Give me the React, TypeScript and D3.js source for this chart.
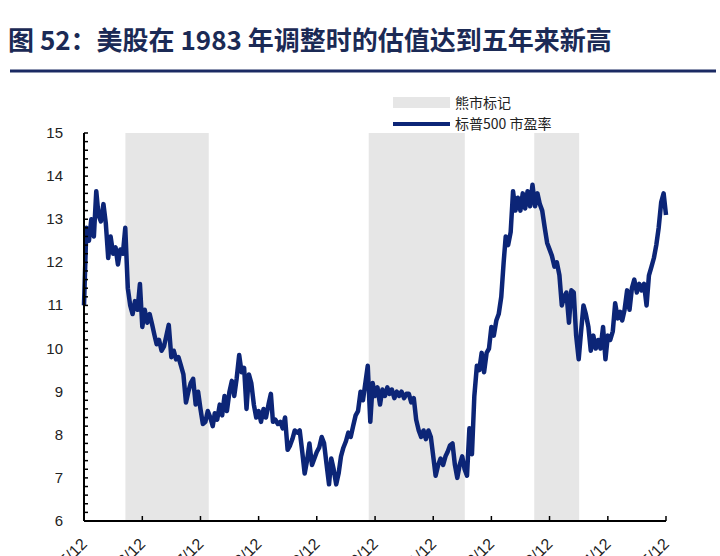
import React from "react";
import * as d3 from "d3";

const TITLE = "图 52：美股在 1983 年调整时的估值达到五年来新高";
const LEGEND_BEAR = "熊市标记";
const LEGEND_PE = "标普500 市盈率";

// half-monthly S&P 500 P/E readings, 1975/12 .. 1985/12
const pe: number[] = [
  11.0, 12.8, 12.5, 13.0, 12.6, 13.65, 13.1, 12.95, 13.35, 12.9,
  12.1, 12.6, 12.2, 12.35, 11.95, 12.3, 12.2, 12.8, 11.4, 11.0,
  10.8, 11.1, 10.9, 11.5, 10.5, 10.9, 10.6, 10.8, 10.55, 10.3,
  10.1, 10.2, 9.95, 10.05, 10.3, 10.55, 9.8, 9.95, 9.75, 9.8,
  9.6, 9.4, 8.75, 9.0, 9.2, 9.3, 8.7, 9.0, 8.6, 8.25,
  8.3, 8.55, 8.4, 8.2, 8.5, 8.35, 8.7, 8.45, 8.9, 8.55,
  9.0, 9.25, 8.9, 9.3, 9.85, 9.45, 9.55, 8.6, 9.4, 9.2,
  8.7, 8.4, 8.55, 8.3, 8.6, 8.4, 8.7, 8.95, 8.3, 8.35,
  8.25, 8.3, 8.15, 8.4, 7.65, 7.75, 7.9, 8.1, 8.05, 8.1,
  7.6, 7.1, 7.4, 7.8, 7.3, 7.45, 7.6, 7.7, 7.95, 7.8,
  7.3, 6.85, 7.45, 7.2, 6.85, 7.1, 7.5, 7.7, 7.85, 8.05,
  7.95, 8.2, 8.45, 8.55, 9.0, 8.8, 9.2, 9.6, 8.3, 9.2,
  8.9, 9.1, 8.7, 9.05, 8.9, 9.1, 8.95, 9.05, 8.85, 9.0,
  8.9, 9.0, 8.85, 8.95, 8.95, 8.75, 8.85, 8.35, 8.1, 7.95,
  8.1, 7.9, 8.1, 7.95, 7.5, 7.05, 7.3, 7.45, 7.3, 7.5,
  7.6, 7.75, 7.8, 7.3, 7.0, 7.3, 7.5, 7.2, 7.05, 8.15,
  7.55, 8.9, 9.6, 9.5, 9.9, 9.45, 9.9, 10.0, 10.5, 10.3,
  10.65, 10.8, 11.2, 12.0, 12.6, 12.4, 12.7, 13.65, 13.2, 13.5,
  13.2, 13.6, 13.25, 13.65, 13.3, 13.8, 13.3, 13.6, 13.35, 13.2,
  12.8, 12.45, 12.3, 12.15, 11.9, 12.0, 11.7, 11.0, 11.2, 11.3,
  10.6, 11.35, 11.3, 10.3, 9.75, 10.4, 11.0, 10.8, 10.5, 9.95,
  10.3, 10.0, 10.2, 10.0, 10.5, 9.75, 10.3, 10.2, 10.4, 11.05,
  10.7, 10.85, 10.65, 10.9, 11.35, 10.9, 11.4, 11.6, 11.3, 11.5,
  11.35, 11.5, 11.0, 11.7, 11.9, 12.1, 12.4, 12.8, 13.4, 13.6,
  13.1,
];

const bearStarts = ["1976-08-28", "1980-11-02", "1983-09-07"];
const bearEnds = ["1978-02-02", "1982-06-28", "1984-06-15"];

const tickLabels = [
  "1975/12", "1976/12", "1977/12", "1978/12", "1979/12", "1980/12",
  "1981/12", "1982/12", "1983/12", "1984/12", "1985/12",
];
const yTicks = [6, 7, 8, 9, 10, 11, 12, 13, 14, 15];

const NAVY = "#0c2577";
const SHADE = "#e6e6e6";

const parseLabel = (s: string) => {
  const [y, m] = s.split("/").map(Number);
  return new Date(y, m - 1, 12);
};
const dateOf = (i: number) =>
  new Date(1975, 11 + Math.floor(i / 2), i % 2 === 0 ? 12 : 27);

export default function App() {
  const left = 84, right = 666, top = 133, bottom = 521;
  const x = d3
    .scaleTime()
    .domain([parseLabel(tickLabels[0]), parseLabel(tickLabels[tickLabels.length - 1])])
    .range([left, right]);
  const y = d3.scaleLinear().domain([6, 15]).range([bottom, top]);

  const line = d3
    .line<number>()
    .x((_, i) => x(dateOf(i)))
    .y((d) => y(d))
    .curve(d3.curveLinear);

  const minor = d3.range(6, 15.001, 0.2);
  const font = "'Liberation Sans', Arial, sans-serif";
  const cjk = "'Noto Sans CJK SC', sans-serif";

  return (
    <svg
      width={720}
      height={556}
      style={{ position: "absolute", left: 0, top: 0, display: "block", background: "#fff" }}
    >
      <text x={8} y={50} fontFamily={cjk} fontWeight="bold" fontSize={26} fill="#1b2a55">
        {TITLE}
      </text>
      <line x1={10} x2={716} y1={71} y2={71} stroke="#1b2a63" strokeWidth={3} />

      {bearStarts.map((s, k) => {
        const x0 = x(new Date(s));
        const x1 = x(new Date(bearEnds[k]));
        return <rect key={s} x={x0} y={top} width={x1 - x0} height={bottom - top} fill={SHADE} />;
      })}

      {/* legend */}
      <rect x={393} y={97} width={57} height={11} fill={SHADE} />
      <text x={455} y={108} fontFamily={cjk} fontSize={14} fill="#222">
        {LEGEND_BEAR}
      </text>
      <line x1={393} x2={450} y1={124} y2={124} stroke={NAVY} strokeWidth={4} />
      <text x={455} y={129} fontFamily={cjk} fontSize={14} fill="#222">
        {LEGEND_PE}
      </text>

      <path d={line(pe) || ""} fill="none" stroke={NAVY} strokeWidth={4.5} strokeLinejoin="round" />

      {/* y axis */}
      <line x1={left} x2={left} y1={top} y2={bottom} stroke="#000" strokeWidth={2} />
      {minor.map((v) => (
        <line key={v} x1={left} x2={left + 4} y1={y(v)} y2={y(v)} stroke="#000" strokeWidth={1.5} />
      ))}
      {yTicks.map((v) => (
        <text key={v} x={63} y={y(v) + 5} textAnchor="end" fontFamily={font} fontSize={15} fill="#222">
          {v}
        </text>
      ))}

      {/* x axis */}
      <line x1={left} x2={right} y1={bottom} y2={bottom} stroke="#000" strokeWidth={2} />
      {tickLabels.map((t) => {
        const xx = x(parseLabel(t));
        return (
          <g key={t}>
            <line x1={xx} x2={xx} y1={bottom} y2={bottom - 5} stroke="#000" strokeWidth={1.5} />
            <text
              transform={`translate(${xx + 4},${bottom + 24}) rotate(-45)`}
              textAnchor="end"
              fontFamily={font}
              fontSize={16}
              fill="#222"
            >
              {t}
            </text>
          </g>
        );
      })}
    </svg>
  );
}
